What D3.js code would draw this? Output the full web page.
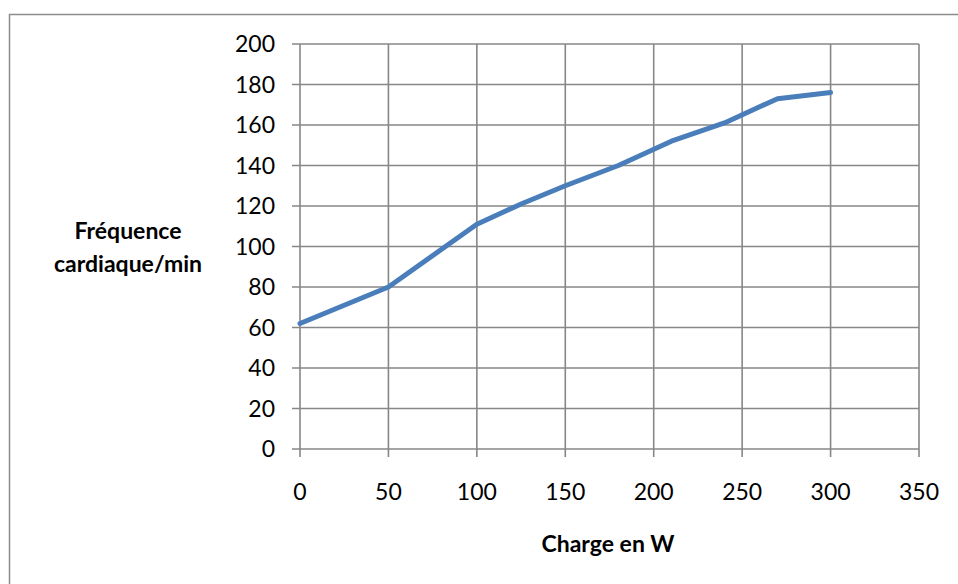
<!DOCTYPE html>
<html>
<head>
<meta charset="utf-8">
<script src="https://cdn.jsdelivr.net/npm/d3@7"></script>
<style>
  html, body { margin: 0; padding: 0; background: #fff; }
  svg { display: block; }
  text { font-family: Lato, "Open Sans", sans-serif; fill: #000; }
</style>
</head>
<body>
<svg id="chart" width="958" height="584"></svg>
<script>
// Charge (W) et fréquence cardiaque mesurée
const charge = [0, 50, 100, 125, 150, 180, 210, 240, 270, 300];
const frequence = [62, 80, 111, 121, 130, 140, 152, 161, 173, 176];
const xTicks = [0, 50, 100, 150, 200, 250, 300, 350];
const yTicks = [0, 20, 40, 60, 80, 100, 120, 140, 160, 180, 200];
const xTitle = "Charge en W";
const yTitle = ["Fréquence", "cardiaque/min"];

const svg = d3.select("#chart");
const gridColor = "#878787";

// cadre extérieur
svg.append("rect")
  .attr("x", 9.5).attr("y", 14.5)
  .attr("width", 1000).attr("height", 1000)
  .attr("fill", "none").attr("stroke", "#8c8c8c").attr("stroke-width", 1.5);

const x = d3.scaleLinear().domain([0, 350]).range([300, 919]);
const y = d3.scaleLinear().domain([0, 200]).range([449, 44]);

// grille verticale avec graduations
svg.append("g").selectAll("line").data(xTicks).join("line")
  .attr("x1", d => x(d)).attr("x2", d => x(d))
  .attr("y1", y(200)).attr("y2", y(0) + 8)
  .attr("stroke", gridColor).attr("stroke-width", 1.6);

// grille horizontale avec graduations
svg.append("g").selectAll("line").data(yTicks).join("line")
  .attr("x1", x(0) - 8).attr("x2", x(350))
  .attr("y1", d => y(d)).attr("y2", d => y(d))
  .attr("stroke", gridColor).attr("stroke-width", 1.6);

// étiquettes des axes
svg.append("g").selectAll("text").data(yTicks).join("text")
  .attr("x", x(0) - 25).attr("y", d => y(d))
  .attr("dy", "0.36em")
  .attr("text-anchor", "end")
  .attr("font-size", 23)
  .text(d => d);

svg.append("g").selectAll("text").data(xTicks).join("text")
  .attr("x", d => x(d)).attr("y", 500)
  .attr("text-anchor", "middle")
  .attr("font-size", 23)
  .text(d => d);

// courbe
const line = d3.line().x((d, i) => x(charge[i])).y(d => y(d));
svg.append("path")
  .datum(frequence)
  .attr("d", line)
  .attr("fill", "none")
  .attr("stroke", "#4a7ebb")
  .attr("stroke-width", 5)
  .attr("stroke-linejoin", "round")
  .attr("stroke-linecap", "round");

// titres
svg.append("text")
  .attr("x", 608).attr("y", 552)
  .attr("text-anchor", "middle")
  .attr("font-size", 23).attr("font-weight", "bold")
  .text(xTitle);

svg.append("g").selectAll("text").data(yTitle).join("text")
  .attr("x", 128).attr("y", (d, i) => 239 + i * 33)
  .attr("text-anchor", "middle")
  .attr("font-size", 23).attr("font-weight", "bold")
  .text(d => d);
</script>
</body>
</html>
